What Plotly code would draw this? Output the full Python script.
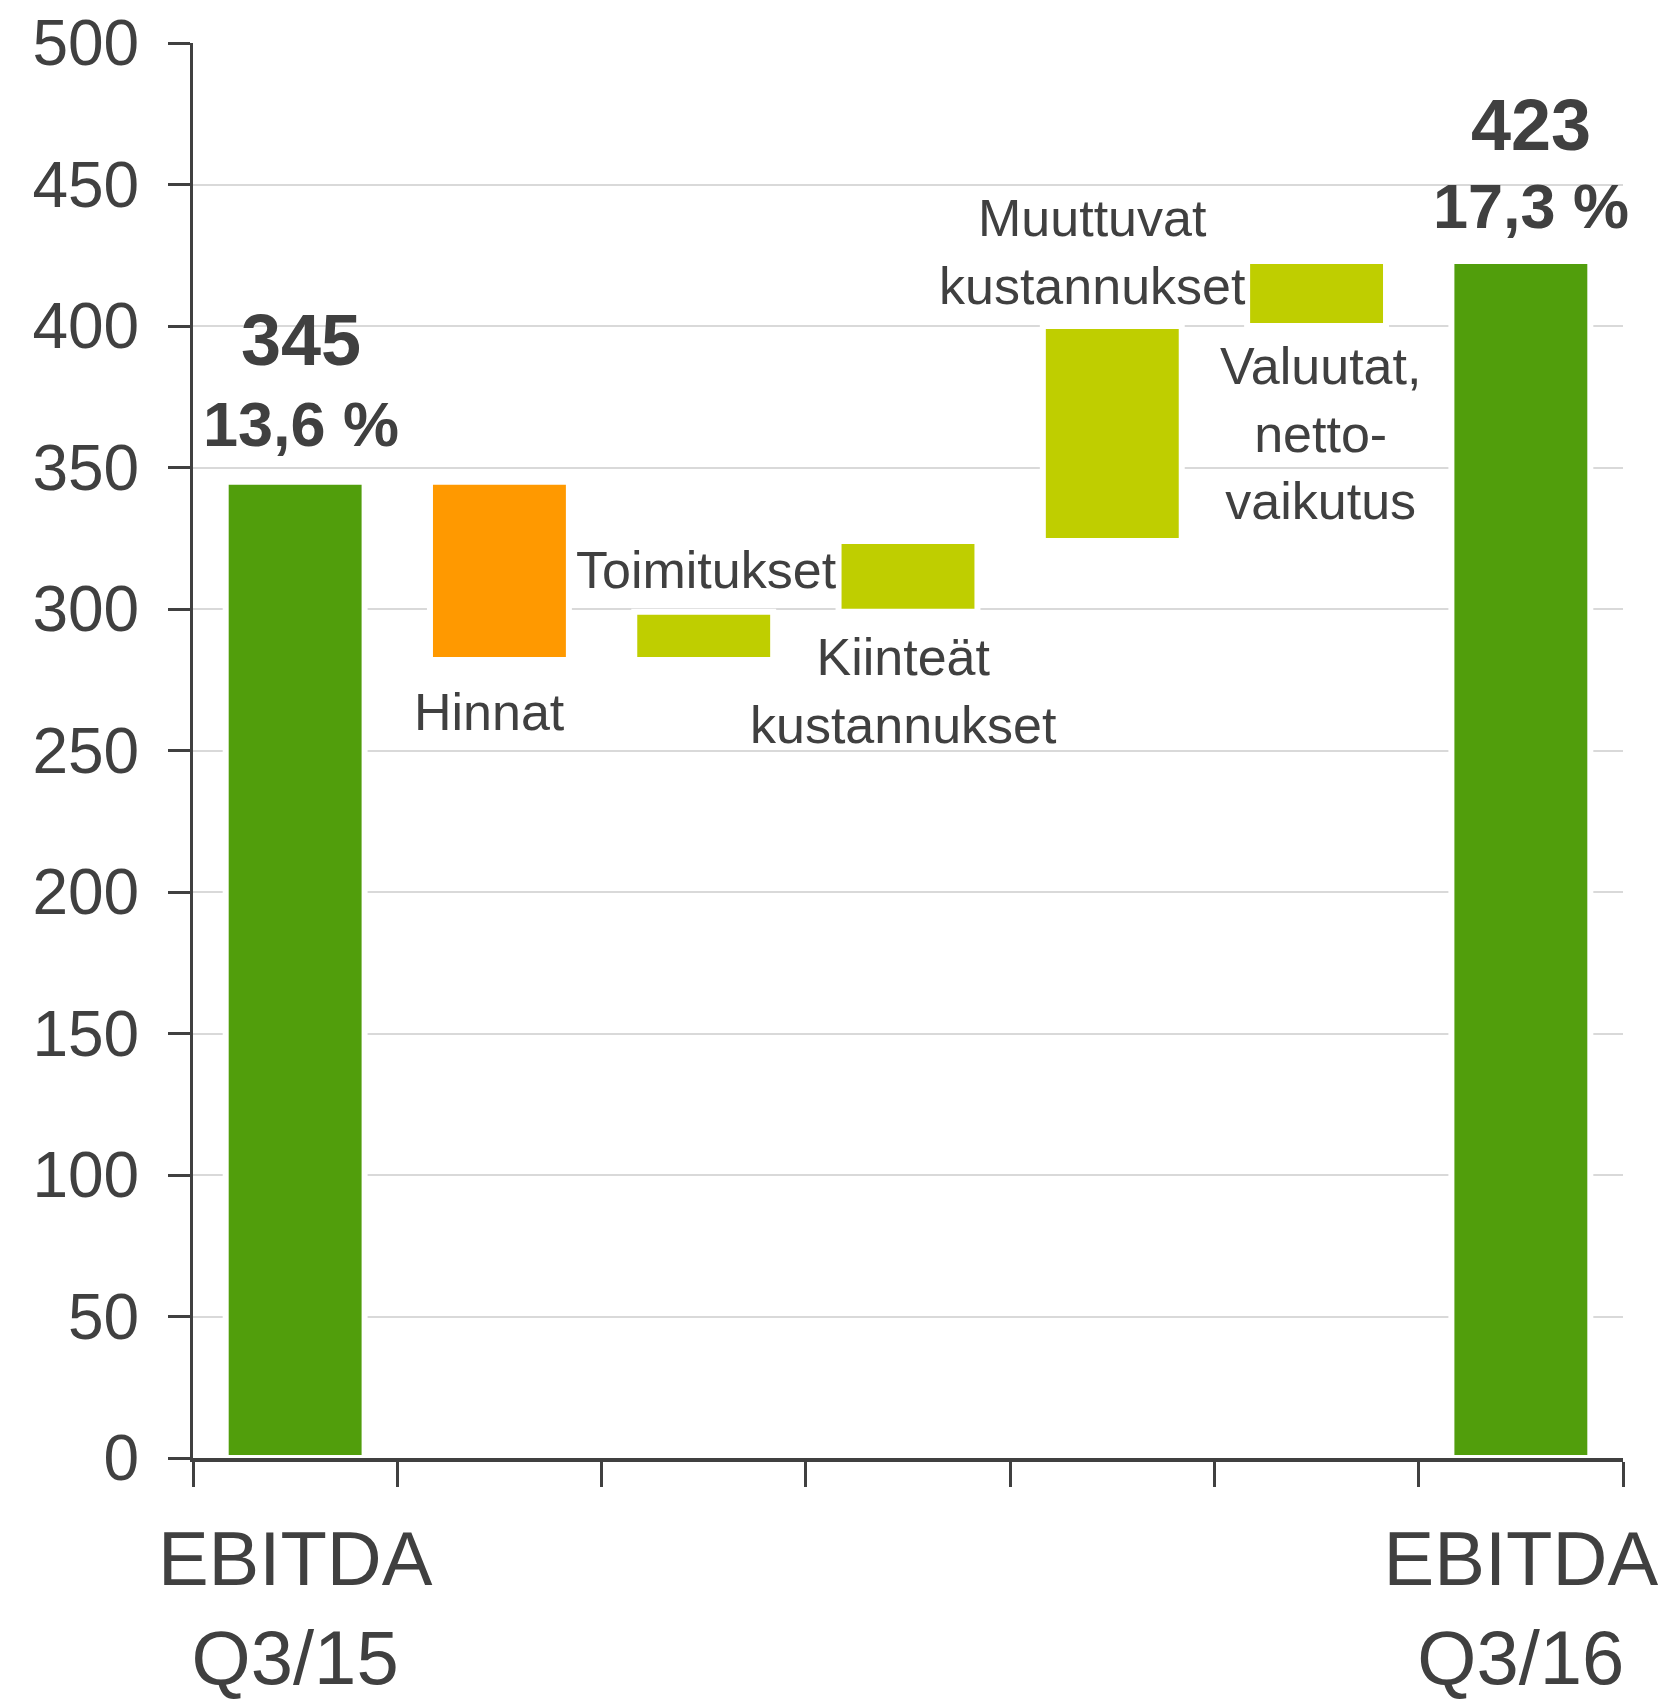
import plotly.graph_objects as go

categories = ["EBITDA Q3/15", "Hinnat", "Toimitukset", "Kiinteät kustannukset",
              "Muuttuvat kustannukset", "Valuutat, nettovaikutus", "EBITDA Q3/16"]
measures = ["absolute", "relative", "relative", "relative", "relative", "relative", "total"]
values = [345, -63, 17, 25, 76, 23, 423]
tick_labels = ["EBITDA<br>Q3/15", "", "", "", "", "", "EBITDA<br>Q3/16"]
margins = ["13,6 %", "17,3 %"]

step_labels = ["Hinnat", "Toimitukset", "Kiinteät<br>kustannukset",
               "Muuttuvat<br>kustannukset", "Valuutat,<br>netto-<br>vaikutus"]
# (category index, y position in data units, pixel x shift)
step_label_pos = [(1, 263.6, -10), (2, 313.8, 3), (3, 271, -5), (4, 426, -20), (5, 362, 4)]

GREEN = "#519E0C"
ORANGE = "#FF9900"
LIME = "#BFCE00"
TXT = "#404040"
FONT = "Liberation Sans, Arial, sans-serif"

fig = go.Figure(go.Waterfall(
    x=categories,
    y=values,
    measure=measures,
    width=0.68,
    textinfo="none",
    connector=dict(visible=False),
    increasing=dict(marker=dict(color=LIME, line=dict(color="white", width=6))),
    decreasing=dict(marker=dict(color=ORANGE, line=dict(color="white", width=6))),
    totals=dict(marker=dict(color=GREEN, line=dict(color="white", width=6))),
    hoverinfo="x+y",
))

annotations = []
for (idx, yv, xs), txt in zip(step_label_pos, step_labels):
    annotations.append(dict(x=categories[idx], y=yv, xref="x", yref="y", text=txt,
                            showarrow=False, xanchor="center", yanchor="middle",
                            xshift=xs, font=dict(size=52, color=TXT, family=FONT)))

# totals labels
annotations += [
    dict(x=categories[0], y=395, text="<b>%d</b>" % values[0], font=dict(size=72)),
    dict(x=categories[0], y=365.5, text="<b>%s</b>" % margins[0], font=dict(size=63)),
    dict(x=categories[-1], y=471, text="<b>%d</b>" % values[-1], font=dict(size=72)),
    dict(x=categories[-1], y=442.5, text="<b>%s</b>" % margins[1], font=dict(size=63)),
]
for a in annotations[-4:]:
    a.update(xref="x", yref="y", showarrow=False, xanchor="center", yanchor="middle",
             xshift=6 if a["x"] == categories[0] else 10)
    a["font"].update(color=TXT, family=FONT)

fig.update_layout(
    width=1666, height=1700,
    margin=dict(l=193, r=43, t=43, b=242),
    paper_bgcolor="white", plot_bgcolor="white",
    showlegend=False,
    font=dict(family=FONT, color=TXT),
    annotations=annotations,
)
fig.update_xaxes(
    type="category", automargin=False,
    range=[-0.5, len(categories) - 0.5],
    tickmode="array", tickvals=categories, ticktext=tick_labels, tickangle=0,
    tickson="boundaries", ticks="outside", ticklen=25, tickwidth=3, tickcolor=TXT,
    showline=True, linecolor=TXT, linewidth=4,
    showgrid=False, ticklabeloverflow="allow",
    tickfont=dict(size=76, color=TXT, family=FONT),
    ticklabelstandoff=32,
)
fig.update_yaxes(
    range=[0, 500], tickvals=list(range(0, 501, 50)), automargin=False,
    ticks="outside", ticklen=22, tickwidth=3, tickcolor=TXT,
    showline=True, linecolor=TXT, linewidth=3,
    showgrid=True, gridcolor="#D9D9D9", gridwidth=1.5,
    zeroline=False, ticklabeloverflow="allow",
    tickfont=dict(size=64, color=TXT, family=FONT),
    ticklabelstandoff=16,
)

fig.write_html(
    "out.html",
    config={"displayModeBar": False},
    post_script="document.body.style.margin='0px';document.body.style.overflow='hidden';",
)
